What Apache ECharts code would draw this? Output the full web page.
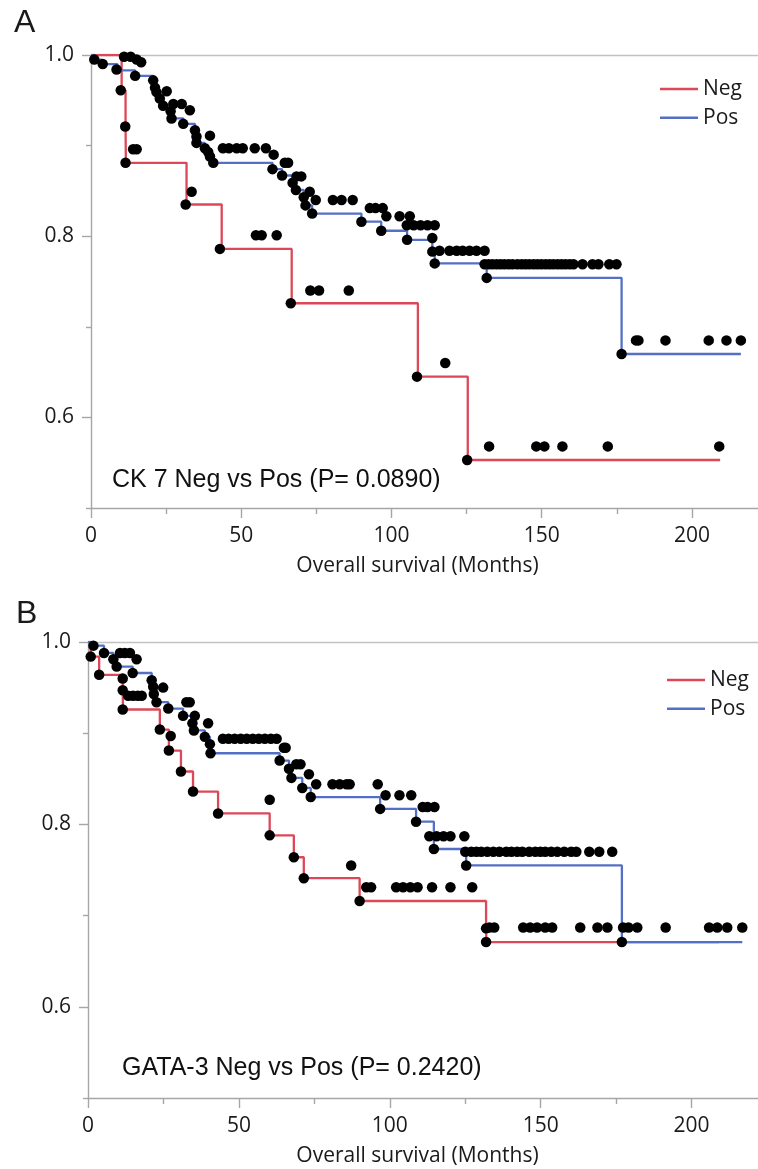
<!DOCTYPE html>
<html>
<head>
<meta charset="utf-8">
<script src="https://cdn.jsdelivr.net/npm/echarts@6/dist/echarts.min.js"></script>
<style>
  html, body { margin: 0; padding: 0; background: #fff; }
  #chart { width: 758px; height: 1169px; }
</style>
</head>
<body>
<div id="chart"></div>
<script>
// axis ticks
const xTicks = [0, 50, 100, 150, 200]
const xMinorTicks = [25, 75, 125, 175]
const yTicks = [0.6, 0.8, 1.0]
const yMinorTicks = [0.5, 0.7, 0.9]
const xName = 'Overall survival (Months)'

// panel A : CK 7
const negCurveA = [[0, 1], [10.2, 0.961], [11.5, 0.921], [11.6, 0.881], [31.8, 0.835], [43.5, 0.786], [66.8, 0.726], [108.8, 0.645], [125.4, 0.553], [209.4, 0.553]]
const posCurveA = [[0, 1], [1.1, 0.995], [3.5, 0.990], [8.8, 0.983], [14.7, 0.977], [20.7, 0.972], [21.3, 0.964], [21.8, 0.959], [22.9, 0.952], [24.0, 0.944], [26.5, 0.938], [26.8, 0.930], [30.7, 0.924], [34.6, 0.917], [35.1, 0.910], [35.3, 0.903], [37.9, 0.897], [39.0, 0.893], [39.6, 0.888], [40.7, 0.881], [60.4, 0.874], [63.6, 0.867], [67.1, 0.859], [68.2, 0.851], [70.8, 0.843], [71.4, 0.834], [73.6, 0.825], [90.0, 0.816], [96.6, 0.806], [105.2, 0.796], [113.6, 0.783], [114.4, 0.770], [131.7, 0.754], [176.6, 0.670], [216.3, 0.670]]
const negDotsA = [[9.9, 0.961], [11.4, 0.921], [11.5, 0.881], [14.0, 0.896], [15.2, 0.896], [31.5, 0.835], [33.5, 0.849], [42.9, 0.786], [54.9, 0.801], [56.8, 0.801], [61.8, 0.801], [66.5, 0.726], [73.0, 0.740], [75.9, 0.740], [85.8, 0.740], [108.5, 0.645], [117.9, 0.660], [125.2, 0.553], [132.5, 0.568], [148.2, 0.568], [150.9, 0.568], [156.9, 0.568], [172.0, 0.568], [209.1, 0.568]]
const posDotsA = [
  [1.1, 0.995], [3.9, 0.990], [8.5, 0.984], [14.7, 0.977], [20.7, 0.972], [21.3, 0.964], [21.8, 0.959], [22.9, 0.952], [24.0, 0.944], [26.5, 0.938], [26.8, 0.930], [30.7, 0.924], [34.6, 0.917], [35.1, 0.910], [35.1, 0.903], [37.9, 0.897], [39.0, 0.893], [39.6, 0.888], [40.7, 0.881], [60.4, 0.874], [63.6, 0.867], [67.1, 0.859], [68.2, 0.851], [70.8, 0.843], [71.4, 0.834], [73.6, 0.825], [90.0, 0.816], [96.6, 0.806], [105.2, 0.796], [113.6, 0.783], [114.4, 0.770], [131.7, 0.754], [176.6, 0.670],
  [11.0, 0.998], [13.2, 0.998], [15.2, 0.995], [16.7, 0.992], [25.2, 0.960], [27.4, 0.946], [30.2, 0.946], [32.9, 0.939], [39.6, 0.911],
  [43.9, 0.897], [45.9, 0.897], [48.5, 0.897], [50.5, 0.897], [54.5, 0.897], [58.2, 0.897],
  [60.8, 0.890], [64.5, 0.881], [65.6, 0.881], [68.4, 0.866], [70.0, 0.866], [72.8, 0.849], [74.8, 0.840], [80.5, 0.840], [83.4, 0.840], [87.1, 0.840],
  [92.8, 0.831], [94.7, 0.831], [97.1, 0.831], [98.3, 0.822], [102.7, 0.822], [106.1, 0.822], [105.1, 0.812], [107.4, 0.812], [109.7, 0.812], [112.0, 0.812], [114.4, 0.812], [113.6, 0.798],
  [116.0, 0.784], [119.3, 0.784], [121.7, 0.784], [123.7, 0.784], [126.0, 0.784], [128.3, 0.784], [131.0, 0.784],
  [131.0, 0.769], [132.3, 0.769], [133.6, 0.769], [135.0, 0.769], [136.3, 0.769], [137.6, 0.769], [139.0, 0.769], [140.3, 0.769], [141.9, 0.769], [143.3, 0.769], [144.6, 0.769], [145.9, 0.769], [147.3, 0.769], [148.6, 0.769], [149.9, 0.769], [151.3, 0.769], [152.6, 0.769], [153.9, 0.769], [155.3, 0.769], [156.6, 0.769], [157.9, 0.769], [159.3, 0.769], [160.6, 0.769], [163.6, 0.769], [166.9, 0.769], [168.9, 0.769], [172.5, 0.769], [174.9, 0.769],
  [181.4, 0.685], [182.2, 0.685], [191.2, 0.685], [205.6, 0.685], [211.5, 0.685], [216.3, 0.685]
]

// panel B : GATA-3
const negCurveB = [[0, 1], [0.9, 0.984], [3.7, 0.964], [11.5, 0.945], [11.6, 0.926], [23.8, 0.904], [26.8, 0.881], [30.8, 0.858], [34.8, 0.836], [43.1, 0.812], [60.2, 0.788], [68.2, 0.764], [71.5, 0.741], [90.0, 0.716], [131.9, 0.686], [132.0, 0.671], [209.1, 0.671]]
const posCurveB = [[0, 1], [1.8, 0.996], [5.3, 0.988], [8.4, 0.981], [9.5, 0.973], [14.8, 0.966], [21.1, 0.958], [21.6, 0.951], [22.7, 0.934], [26.6, 0.927], [31.5, 0.919], [34.6, 0.911], [35.1, 0.903], [38.7, 0.896], [40.4, 0.888], [40.6, 0.878], [63.5, 0.870], [66.6, 0.861], [67.4, 0.851], [71.0, 0.840], [73.8, 0.830], [96.8, 0.817], [108.7, 0.803], [114.6, 0.773], [125.3, 0.755], [176.9, 0.671], [216.8, 0.671]]
const negDotsB = [[0.9, 0.984], [3.7, 0.964], [11.5, 0.960], [11.5, 0.947], [11.5, 0.926], [23.8, 0.904], [27.4, 0.897], [26.8, 0.881], [30.8, 0.858], [34.8, 0.836], [43.1, 0.812], [60.2, 0.827], [60.2, 0.788], [68.2, 0.764], [71.5, 0.741], [87.2, 0.755], [90.0, 0.716],
  [92.2, 0.731], [93.8, 0.731], [102.1, 0.731], [104.4, 0.731], [106.8, 0.731], [109.2, 0.731], [114.0, 0.731], [120.1, 0.731], [127.3, 0.731],
  [131.9, 0.686], [131.9, 0.671], [133.0, 0.687], [134.6, 0.687], [144.2, 0.687], [146.5, 0.687], [148.8, 0.687], [151.5, 0.687], [153.8, 0.687], [163.1, 0.687], [168.8, 0.687], [172.1, 0.687]]
const posDotsB = [
  [1.8, 0.996], [5.3, 0.988], [8.4, 0.981], [9.5, 0.973], [14.8, 0.966], [21.1, 0.958], [21.6, 0.951], [22.7, 0.934], [26.6, 0.927], [31.5, 0.919], [34.6, 0.911], [35.1, 0.903], [38.7, 0.896], [40.4, 0.888], [40.6, 0.878], [63.5, 0.870], [66.6, 0.861], [67.4, 0.851], [71.0, 0.840], [73.8, 0.830], [96.8, 0.817], [108.7, 0.803], [114.6, 0.773], [125.3, 0.755], [176.9, 0.671],
  [10.6, 0.988], [12.2, 0.988], [13.9, 0.988], [16.1, 0.981], [13.3, 0.941], [14.9, 0.941], [16.5, 0.941], [17.8, 0.941], [21.8, 0.943], [24.9, 0.950], [32.6, 0.934], [33.7, 0.934], [35.4, 0.919], [39.8, 0.911],
  [44.7, 0.894], [46.6, 0.894], [48.6, 0.894], [50.6, 0.894], [52.6, 0.894], [54.6, 0.894], [56.6, 0.894], [58.6, 0.894], [60.6, 0.894], [62.5, 0.894],
  [64.9, 0.884], [65.5, 0.884], [69.0, 0.866], [70.4, 0.866], [73.2, 0.855], [75.6, 0.844], [81.0, 0.844], [83.4, 0.844], [85.7, 0.844], [86.7, 0.844], [96.0, 0.844],
  [98.6, 0.832], [103.2, 0.832], [107.1, 0.832], [110.9, 0.819], [112.5, 0.819], [114.8, 0.819], [113.1, 0.787], [115.5, 0.787], [117.8, 0.787], [120.1, 0.787], [124.7, 0.787],
  [125.0, 0.770], [127.0, 0.770], [128.7, 0.770], [130.3, 0.770], [132.3, 0.770], [134.3, 0.770], [136.3, 0.770], [138.6, 0.770], [140.3, 0.770], [142.2, 0.770], [143.9, 0.770], [146.2, 0.770], [148.2, 0.770], [149.9, 0.770], [151.5, 0.770], [153.5, 0.770], [155.5, 0.770], [157.8, 0.770], [160.1, 0.770], [161.8, 0.770], [166.1, 0.770], [169.4, 0.770], [173.7, 0.770],
  [177.3, 0.687], [179.1, 0.687], [182.0, 0.687], [191.4, 0.687], [205.8, 0.687], [208.5, 0.687], [211.8, 0.687], [216.8, 0.687]
]

const negColor = '#dc4858'
const posColor = '#5470c6'
const axisGray = '#a6a6a6'
const labelFont = { fontFamily: 'Open Sans', fontSize: 21, color: '#1a1a1a' }

const xAxes = (g, shift) => [
  {
    gridIndex: g, type: 'value', min: 0, max: 222, position: 'bottom',
    axisLine: { onZero: false, lineStyle: { color: axisGray, width: 1.4 } },
    axisTick: { show: true, length: 10, customValues: xTicks, lineStyle: { color: axisGray, width: 1.4 } },
    axisLabel: { customValues: xTicks, margin: 18, ...labelFont },
    splitLine: { show: false },
    name: xName, nameLocation: 'middle', nameGap: 48,
    nameTextStyle: { ...labelFont, padding: [0, shift, 0, 0] }
  },
  {
    gridIndex: g, type: 'value', min: 0, max: 222, position: 'bottom',
    axisLine: { show: false },
    axisTick: { show: true, length: 6, customValues: xMinorTicks, lineStyle: { color: axisGray, width: 1.4 } },
    axisLabel: { show: false }, splitLine: { show: false }
  },
  {
    gridIndex: g, type: 'value', min: 0, max: 222, position: 'top',
    axisLine: { onZero: false, lineStyle: { color: '#c2c2c2', width: 1.4 } },
    axisTick: { show: false }, axisLabel: { show: false }, splitLine: { show: false }
  }
]

const yAxes = (g) => [
  {
    gridIndex: g, type: 'value', min: 0.5, max: 1.0, position: 'left',
    axisLine: { show: true, onZero: false, lineStyle: { color: axisGray, width: 1.4 } },
    axisTick: { show: true, length: 9, customValues: yTicks, lineStyle: { color: axisGray, width: 1.4 } },
    axisLabel: { customValues: yTicks, margin: 17, formatter: (v) => v.toFixed(1), ...labelFont },
    splitLine: { show: false }
  },
  {
    gridIndex: g, type: 'value', min: 0.5, max: 1.0, position: 'left',
    axisLine: { show: false },
    axisTick: { show: true, length: 5, customValues: yMinorTicks, lineStyle: { color: axisGray, width: 1.4 } },
    axisLabel: { show: false }, splitLine: { show: false }
  }
]

const curve = (name, data, color, xi, yi) => ({
  name, type: 'line', step: 'end', data, xAxisIndex: xi, yAxisIndex: yi,
  symbol: 'none', lineStyle: { color, width: 2.3 }, itemStyle: { color }, z: 2, silent: true
})

const dots = (data, xi, yi) => ({
  type: 'scatter', data, xAxisIndex: xi, yAxisIndex: yi,
  symbolSize: 10.5, itemStyle: { color: '#000', opacity: 1 }, z: 3, silent: true
})

const legendBase = {
  data: ['Neg', 'Pos'], orient: 'vertical', icon: 'rect',
  itemWidth: 38, itemHeight: 2.5, itemGap: 7.7, selectedMode: false,
  textStyle: { ...labelFont }
}

const chart = echarts.init(document.getElementById('chart'))

chart.setOption({
  animation: false,
  backgroundColor: '#fff',
  grid: [
    { left: 91, right: 0, top: 55, height: 453 },
    { left: 88, right: 0, top: 642, height: 456 }
  ],
  xAxis: [...xAxes(0, 14), ...xAxes(1, 11)],
  yAxis: [...yAxes(0), ...yAxes(1)],
  legend: [
    { ...legendBase, left: 655, top: 73.5 },
    { ...legendBase, left: 662, top: 664.5 }
  ],
  series: [
    curve('Neg', negCurveA, negColor, 0, 0),
    curve('Pos', posCurveA, posColor, 0, 0),
    dots(negDotsA, 0, 0),
    dots(posDotsA, 0, 0),
    curve('Neg', negCurveB, negColor, 3, 2),
    curve('Pos', posCurveB, posColor, 3, 2),
    dots(negDotsB, 3, 2),
    dots(posDotsB, 3, 2)
  ],
  graphic: [
    { type: 'text', x: 14, y: 23.5, style: { text: 'A', fontFamily: 'Liberation Sans', fontSize: 32, verticalAlign: 'middle', fill: '#1a1a1a' } },
    { type: 'text', x: 16, y: 614, style: { text: 'B', fontFamily: 'Liberation Sans', fontSize: 32, verticalAlign: 'middle', fill: '#1a1a1a' } },
    { type: 'text', x: 112, y: 480.5, style: { text: 'CK 7 Neg vs Pos (P= 0.0890)', fontFamily: 'Liberation Sans', fontSize: 25, verticalAlign: 'middle', fill: '#111' } },
    { type: 'text', x: 122, y: 1068.5, style: { text: 'GATA-3 Neg vs Pos (P= 0.2420)', fontFamily: 'Liberation Sans', fontSize: 25, verticalAlign: 'middle', fill: '#111' } }
  ]
})
</script>
</body>
</html>
